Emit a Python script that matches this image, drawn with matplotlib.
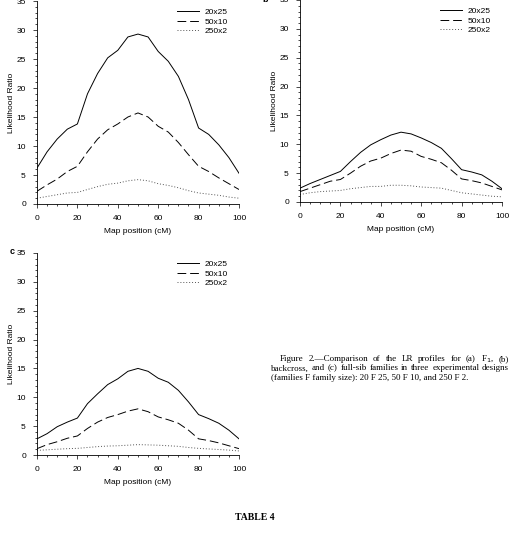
import matplotlib
matplotlib.use("Agg")
import matplotlib.pyplot as plt
from matplotlib.ticker import MultipleLocator

# map positions (cM)
pos = [0, 5, 10, 15, 20, 25, 30, 35, 40, 45, 50, 55, 60, 65, 70, 75, 80, 85, 90, 95, 100]

# (a) F1
a_20x25 = [6.2, 9.0, 11.2, 12.9, 13.8, 19.0, 22.5, 25.2, 26.5, 28.8, 29.3, 28.8, 26.3, 24.6, 22.0, 18.0, 13.1, 12.0, 10.2, 8.0, 5.3]
a_50x10 = [2.2, 3.3, 4.3, 5.6, 6.5, 9.0, 11.2, 12.8, 13.8, 15.0, 15.7, 15.0, 13.4, 12.4, 10.6, 8.5, 6.5, 5.6, 4.5, 3.5, 2.5]
a_250x2 = [1.0, 1.3, 1.6, 1.9, 2.0, 2.5, 3.0, 3.4, 3.6, 4.0, 4.2, 4.0, 3.5, 3.2, 2.8, 2.3, 1.9, 1.7, 1.5, 1.2, 1.0]

# (b) backcross
b_20x25 = [2.4, 3.2, 3.9, 4.6, 5.3, 7.0, 8.6, 9.9, 10.8, 11.6, 12.1, 11.8, 11.1, 10.3, 9.3, 7.5, 5.6, 5.2, 4.7, 3.6, 2.3]
b_50x10 = [1.8, 2.4, 3.0, 3.6, 3.9, 5.0, 6.2, 7.1, 7.6, 8.4, 9.0, 8.8, 7.9, 7.4, 6.8, 5.5, 4.0, 3.7, 3.3, 2.7, 2.1]
b_250x2 = [1.3, 1.6, 1.8, 1.9, 2.0, 2.3, 2.5, 2.7, 2.7, 2.9, 2.9, 2.8, 2.6, 2.5, 2.4, 2.0, 1.6, 1.4, 1.2, 1.0, 0.9]

# (c) full-sib
c_20x25 = [2.8, 3.7, 4.9, 5.7, 6.4, 8.9, 10.6, 12.2, 13.2, 14.5, 15.0, 14.5, 13.3, 12.6, 11.2, 9.2, 7.0, 6.3, 5.5, 4.3, 2.8]
c_50x10 = [1.1, 1.8, 2.3, 2.9, 3.3, 4.6, 5.7, 6.5, 7.0, 7.6, 8.0, 7.5, 6.6, 6.1, 5.5, 4.3, 2.8, 2.5, 2.1, 1.6, 1.1]
c_250x2 = [0.8, 0.9, 1.0, 1.1, 1.15, 1.3, 1.45, 1.55, 1.6, 1.7, 1.8, 1.75, 1.7, 1.6, 1.5, 1.3, 1.15, 1.05, 0.95, 0.85, 0.7]

designs = ["20x25", "50x10", "250x2"]

plt.rcParams['font.family'] = ['Liberation Sans', 'DejaVu Sans']

fig = plt.figure(figsize=(5.1, 5.34), dpi=100)
W, H = 510, 534


def panel(x0, x1, y35, y0, series):
    ax = fig.add_axes([x0 / W, 1 - y0 / H, (x1 - x0) / W, (y0 - y35) / H])
    styles = [dict(ls='-', color='black', lw=0.7),
              dict(ls=(0, (9, 4)), color='black', lw=0.7),
              dict(ls=(0, (1, 2)), color='#555555', lw=0.7)]
    for ys, lab, st in zip(series, designs, styles):
        ax.plot(pos, ys, label=lab, **st)
    ax.set_xlim(0, 100)
    ax.set_ylim(0, 35)
    ax.spines['top'].set_visible(False)
    ax.spines['right'].set_visible(False)
    ax.spines['left'].set_linewidth(0.6)
    ax.spines['bottom'].set_linewidth(0.6)
    ax.xaxis.set_major_locator(MultipleLocator(20))
    ax.xaxis.set_minor_locator(MultipleLocator(5))
    ax.yaxis.set_major_locator(MultipleLocator(5))
    ax.yaxis.set_minor_locator(MultipleLocator(1))
    ax.tick_params(which='major', length=3, width=0.5, labelsize=6, pad=5)
    ax.tick_params(which='minor', length=1.5, width=0.5)
    ax.set_xlabel("Map position (cM)", fontsize=6, labelpad=4)
    ax.set_ylabel("Likelihood Ratio", fontsize=6, labelpad=1)
    ax.patch.set_alpha(0)
    ax.legend(loc='upper right', bbox_to_anchor=(0.96, 0.98), frameon=False,
              fontsize=6, handlelength=2.7, handletextpad=0.6,
              labelspacing=0.2, borderaxespad=0)
    return ax


panel(37, 239, 1, 204, [a_20x25, a_50x10, a_250x2])
panel(300, 502, 0, 202, [b_20x25, b_50x10, b_250x2])
panel(37, 239, 253, 455, [c_20x25, c_50x10, c_250x2])

fig.text(262 / W, 1 - (-1) / H, "b", fontsize=6.5, fontweight='bold', va='center', ha='left')
fig.text(10 / W, 1 - 252 / H, "c", fontsize=6.5, fontweight='bold', va='center', ha='left')

# caption, justified between x=271 and x=509 (except last line)
serif = ['Liberation Serif', 'DejaVu Serif']
cap_size = 6.5
cap_right = 509
cap_lines = [
    (280, 359, "Figure 2.\u2014Comparison of the LR profiles for (a) F$_1$, (b)", True),
    (271, 368.5, "backcross, and (c) full-sib families in three experimental designs", True),
    (271, 378, "(families F family size): 20 F 25, 50 F 10, and 250 F 2.", False),
]
renderer = fig.canvas.get_renderer()
for x, y, t, justify in cap_lines:
    if not justify:
        fig.text(x / W, 1 - y / H, t, family=serif, fontsize=cap_size, va='center', ha='left')
        continue
    words = t.split(" ")
    objs = [fig.text(0, 1 - y / H, w, family=serif, fontsize=cap_size, va='center', ha='left')
            for w in words]
    widths = [o.get_window_extent(renderer).width for o in objs]
    gap = (cap_right - x - sum(widths)) / (len(words) - 1)
    cx = x
    for o, w in zip(objs, widths):
        o.set_x(cx / W)
        cx += w + gap

fig.text(255 / W, 1 - 517 / H, "TABLE 4", family=serif, fontsize=7,
         fontweight='bold', va='center', ha='center')

fig.savefig("out.png", dpi=100)
